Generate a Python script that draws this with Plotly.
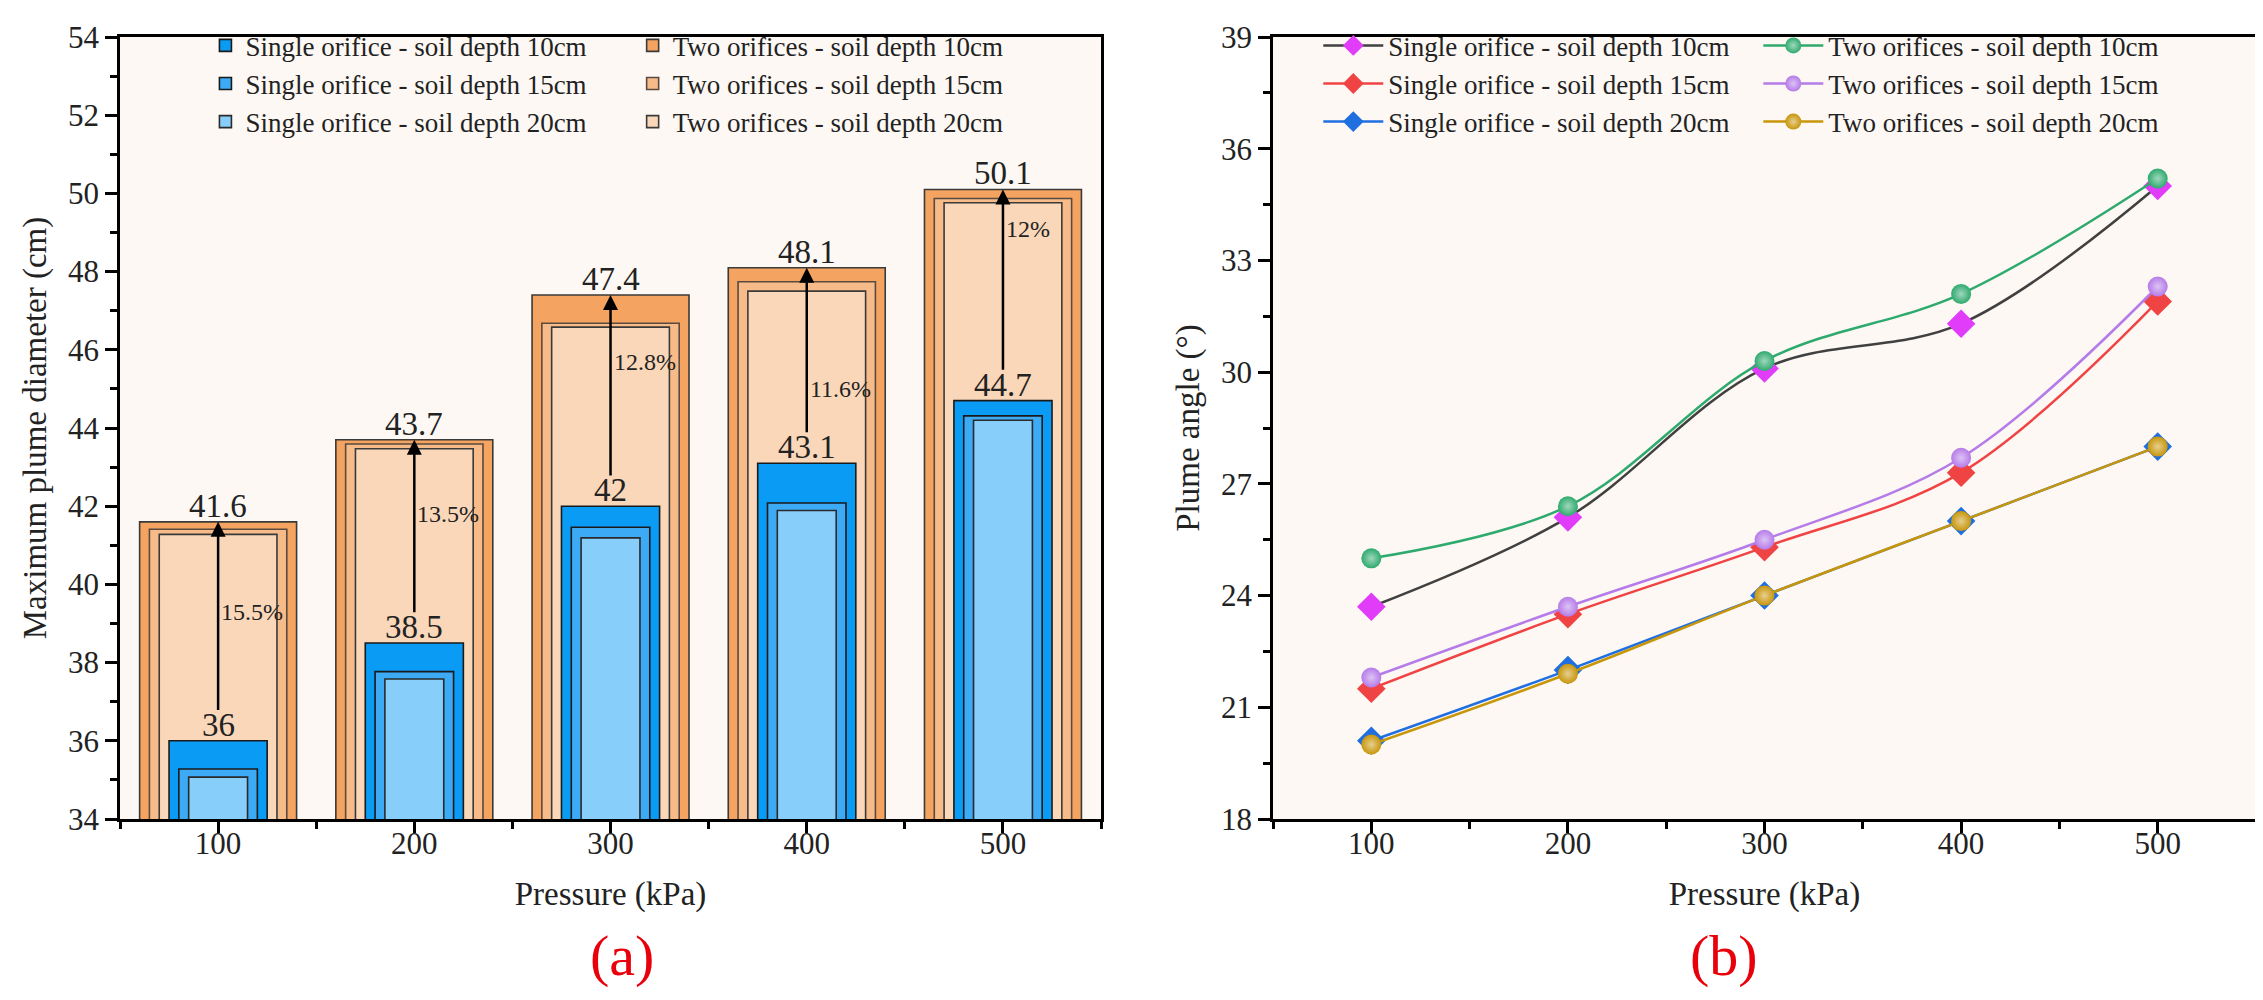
import plotly.graph_objects as go

pressure = [100, 200, 300, 400, 500]

# (a) maximum plume diameter, cm
dia_single_10 = [36.0, 38.5, 42.0, 43.1, 44.7]
dia_single_15 = [35.28, 37.77, 41.46, 42.08, 44.31]
dia_single_20 = [35.07, 37.58, 41.19, 41.89, 44.2]
dia_two_10 = [41.6, 43.7, 47.4, 48.1, 50.1]
dia_two_15 = [41.41, 43.59, 46.68, 47.74, 49.87]
dia_two_20 = [41.28, 43.47, 46.58, 47.5, 49.76]

increase_text = ['15.5%', '13.5%', '12.8%', '11.6%', '12%']
increase_y = [39.3, 41.8, 45.7, 45.0, 49.1]

# (b) plume angle, degrees
ang_single_10 = [23.7, 26.1, 30.1, 31.3, 35.0]
ang_single_15 = [21.5, 23.5, 25.3, 27.3, 31.9]
ang_single_20 = [20.1, 22.0, 24.0, 26.0, 28.0]
ang_two_10 = [25.0, 26.4, 30.3, 32.1, 35.2]
ang_two_15 = [21.8, 23.7, 25.5, 27.7, 32.3]
ang_two_20 = [20.0, 21.9, 24.0, 26.0, 28.0]

FONT = '"Liberation Serif", "Times New Roman", serif'
BG = '#fdf8f4'

fig = go.Figure()

# nested bars: widest two-orifice bar at the back, narrowest single-orifice bar in front
bars = [
    ('Two orifices - soil depth 10cm', dia_two_10, 80, '#f4a460', '#3a3a3a', 'legend2'),
    ('Two orifices - soil depth 15cm', dia_two_15, 70, '#f7bb8a', '#5a4a3f', 'legend2'),
    ('Two orifices - soil depth 20cm', dia_two_20, 60, '#fad7b9', '#3a3a3a', 'legend2'),
    ('Single orifice - soil depth 10cm', dia_single_10, 50, '#0a9bf5', '#1a1a1a', 'legend'),
    ('Single orifice - soil depth 15cm', dia_single_15, 40, '#3caaf5', '#1a1a1a', 'legend'),
    ('Single orifice - soil depth 20cm', dia_single_20, 30, '#87cefa', '#2a2a2a', 'legend'),
]
for name, vals, w, col, edge, leg in bars:
    fig.add_trace(go.Bar(x=pressure, y=vals, width=w, name=name, legend=leg,
                         marker=dict(color=col, line=dict(color=edge, width=1.6)),
                         xaxis='x', yaxis='y'))


def tint(hex_color, f=0.55):
    h = hex_color.lstrip('#')
    r, g, b = (int(h[i:i + 2], 16) for i in (0, 2, 4))
    return 'rgb(%d,%d,%d)' % (r + (255 - r) * f, g + (255 - g) * f, b + (255 - b) * f)


lines = [
    ('Single orifice - soil depth 10cm', ang_single_10, '#404040', '#e03cfa', 'diamond', 'legend3'),
    ('Single orifice - soil depth 15cm', ang_single_15, '#f04444', '#f04444', 'diamond', 'legend3'),
    ('Single orifice - soil depth 20cm', ang_single_20, '#1f6fe0', '#1f6fe0', 'diamond', 'legend3'),
    ('Two orifices - soil depth 10cm', ang_two_10, '#2eaa6e', '#2eaa6e', 'circle', 'legend4'),
    ('Two orifices - soil depth 15cm', ang_two_15, '#b57be8', '#b57be8', 'circle', 'legend4'),
    ('Two orifices - soil depth 20cm', ang_two_20, '#c8960a', '#c8960a', 'circle', 'legend4'),
]
for name, vals, lc, mc, sym, leg in lines:
    marker = dict(symbol=sym, size=22 if sym == 'diamond' else 20, color=mc, line=dict(width=0))
    if sym == 'circle':
        marker['gradient'] = dict(type='radial', color=tint(mc))
    fig.add_trace(go.Scatter(x=pressure, y=vals, name=name, legend=leg, mode='lines+markers',
                             line=dict(color=lc, width=2.5, shape='spline', smoothing=1),
                             marker=marker, xaxis='x2', yaxis='y2'))

ann = []
for p, s, t, pct, py in zip(pressure, dia_single_10, dia_two_10, increase_text, increase_y):
    ann.append(dict(x=p, y=t, ax=p, ay=s + 0.75, xref='x', yref='y', axref='x', ayref='y',
                    text='', showarrow=True, arrowhead=2, arrowsize=1.2, arrowwidth=2.5,
                    arrowcolor='black'))
    ann.append(dict(x=p, y=t, xref='x', yref='y', text=f'{t:g}', showarrow=False,
                    yanchor='bottom', yshift=-4, font=dict(size=33, color='#222')))
    ann.append(dict(x=p, y=s, xref='x', yref='y', text=f'{s:g}', showarrow=False,
                    yanchor='bottom', yshift=-4, font=dict(size=33, color='#222')))
    ann.append(dict(x=p, y=py, xref='x', yref='y', text=pct, showarrow=False,
                    xanchor='left', xshift=1, font=dict(size=24, color='#222')))
ann.append(dict(x=0.219, y=-0.174, xref='paper', yref='paper', text='(a)', showarrow=False,
                yanchor='middle', font=dict(size=58, color='#e8000b')))
ann.append(dict(x=0.768, y=-0.174, xref='paper', yref='paper', text='(b)', showarrow=False,
                yanchor='middle', font=dict(size=58, color='#e8000b')))

axis_style = dict(showline=True, linecolor='black', linewidth=2.5, mirror=True,
                  ticks='outside', tickwidth=2.5, tickcolor='black',
                  showgrid=False, zeroline=False, tickfont=dict(family=FONT, size=31, color='#222'),
                  title_font=dict(family=FONT, size=33, color='#222'))
minor_x = dict(dtick=50, tick0=0, ticks='outside', ticklen=7, tickwidth=2.5, tickcolor='black')

legend_style = dict(bgcolor='rgba(0,0,0,0)', borderwidth=0, yanchor='top', y=1.02,
                    font=dict(family=FONT, size=27, color='#222'), tracegroupgap=0)

fig.update_layout(
    width=2263, height=1000,
    margin=dict(l=112, r=13, t=23, b=189),
    paper_bgcolor='white', plot_bgcolor=BG,
    font=dict(family=FONT, color='#222'),
    barmode='overlay',
    xaxis=dict(domain=[0, 0.4593], range=[50, 550], tickvals=pressure, ticklen=11,
               ticklabelstandoff=-16, minor=minor_x,
               title=dict(text='Pressure (kPa)', standoff=22), **axis_style),
    yaxis=dict(range=[34, 54], dtick=2, ticklen=12,
               minor=dict(dtick=1, ticks='outside', ticklen=7, tickwidth=2.5, tickcolor='black'),
               title=dict(text='Maximum plume diameter (cm)', standoff=12), **axis_style),
    xaxis2=dict(domain=[0.5398, 1], anchor='y2', range=[50, 550], tickvals=pressure, ticklen=11,
                ticklabelstandoff=-16, minor=minor_x,
                title=dict(text='Pressure (kPa)', standoff=22), **axis_style),
    yaxis2=dict(anchor='x2', range=[18, 39], dtick=3, ticklen=12,
                minor=dict(dtick=1.5, ticks='outside', ticklen=7, tickwidth=2.5, tickcolor='black'),
                title=dict(text='Plume angle (°)', standoff=12), **axis_style),
    legend=dict(x=0.040, **legend_style),
    legend2=dict(x=0.240, **legend_style),
    legend3=dict(x=0.561, itemwidth=60, **legend_style),
    legend4=dict(x=0.767, itemwidth=60, **legend_style),
    annotations=ann,
)

fig.write_html('out.html')
